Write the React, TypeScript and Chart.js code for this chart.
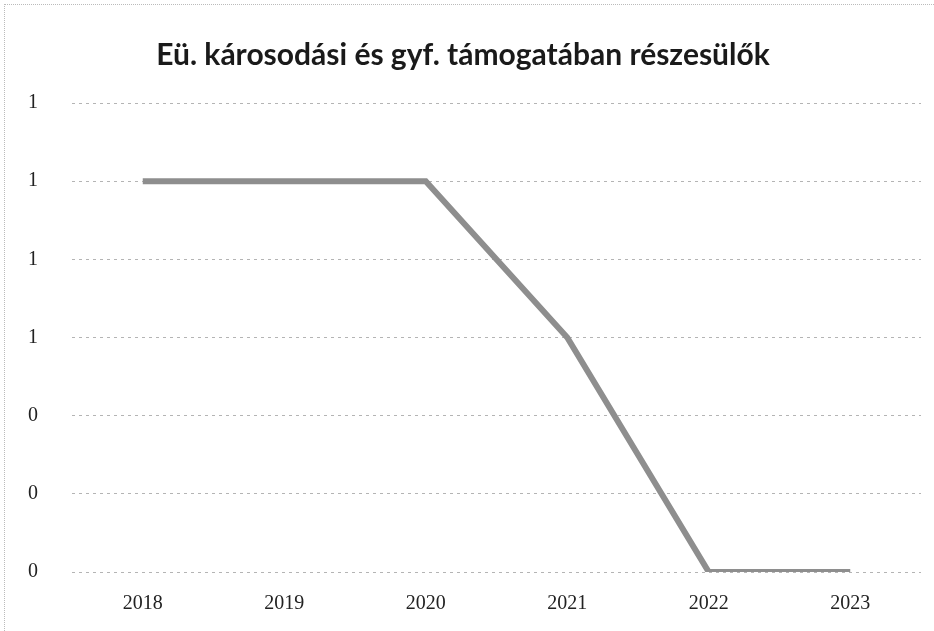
import React, { useEffect, useRef } from "react";
import { Chart, registerables } from "chart.js";

Chart.register(...registerables);

const TITLE = "Eü. károsodási és gyf. támogatában részesülők";
const years = ["2018", "2019", "2020", "2021", "2022", "2023"];
const values = [1, 1, 1, 0.6, 0, 0];
const yMin = 0;
const yMax = 1.2;
const yStep = 0.2;

export default function App() {
  const ref = useRef<HTMLCanvasElement | null>(null);
  useEffect(() => {
    document.body.style.margin = "0";
    const ctx = ref.current!.getContext("2d")!;
    const chart = new Chart(ctx, {
      type: "line",
      data: {
        labels: years,
        datasets: [
          {
            data: values,
            borderColor: "#8e8e8e",
            borderWidth: 6,
            pointRadius: 0,
            tension: 0,
            fill: false,
          },
        ],
      },
      options: {
        animation: false,
        responsive: false,
        layout: { padding: { left: 5, right: 13, top: 5, bottom: 8 } },
        plugins: {
          legend: { display: false },
          tooltip: { enabled: false },
          title: {
            display: true,
            text: TITLE,
            color: "#1a1a1a",
            font: { family: "Lato", size: 30, weight: "bold" },
            padding: { top: 32, bottom: 30 },
          },
        },
        scales: {
          x: {
            offset: true,
            grid: { display: false, drawTicks: false },
            border: { display: false },
            ticks: {
              color: "#222",
              padding: 20,
              font: { family: "Liberation Serif", size: 20 },
            },
            afterFit: (s: any) => {
              s.height = 51;
            },
          },
          y: {
            min: yMin,
            max: yMax,
            grid: {
              color: "#b4b4b4",
              lineWidth: 1,
              drawTicks: false,
            },
            border: { display: false, dash: [3, 4] },
            ticks: {
              stepSize: yStep,
              color: "#222",
              padding: 34,
              font: { family: "Liberation Serif", size: 20 },
              callback: (v: any) => String(Math.round(Number(v))),
            },
            afterFit: (s: any) => {
              s.width = 67;
            },
          },
        },
      },
    } as any);
    return () => chart.destroy();
  }, []);
  return (
    <div
      style={{
        position: "relative",
        width: 934,
        height: 631,
        background: "#fff",
        boxSizing: "border-box",
      }}
    >
      <div
        style={{
          position: "absolute",
          left: 4,
          top: 4,
          right: 0,
          bottom: 0,
          borderLeft: "1px dotted #bbb",
          borderTop: "1px dotted #bbb",
        }}
      />
      <canvas ref={ref} width={934} height={631} style={{ position: "absolute", left: 0, top: 0 }} />
    </div>
  );
}
